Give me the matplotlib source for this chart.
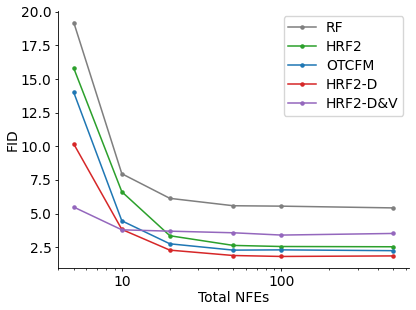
import matplotlib
matplotlib.use('Agg')
import matplotlib.pyplot as plt
from matplotlib.ticker import ScalarFormatter, NullFormatter

nfes = [5, 10, 20, 50, 100, 500]
rf = [19.2, 7.96, 6.13, 5.58, 5.55, 5.42]
hrf2 = [15.8, 6.62, 3.35, 2.63, 2.55, 2.53]
otcfm = [14.0, 4.46, 2.75, 2.28, 2.30, 2.24]
hrf2_d = [10.17, 3.82, 2.28, 1.88, 1.81, 1.85]
hrf2_dv = [5.48, 3.79, 3.69, 3.57, 3.40, 3.52]

series = [
    ('RF', rf, 'tab:gray'),
    ('HRF2', hrf2, 'tab:green'),
    ('OTCFM', otcfm, 'tab:blue'),
    ('HRF2-D', hrf2_d, 'tab:red'),
    ('HRF2-D&V', hrf2_dv, 'tab:purple'),
]

fig = plt.figure(figsize=(4.16, 3.10), dpi=100)
ax = fig.add_axes([0.139, 0.135, 0.844, 0.83])

for name, vals, col in series:
    ax.plot(nfes, vals, marker='.', markersize=4.5, linewidth=1.1, color=col, label=name)

ax.set_xscale('log')
ax.xaxis.set_major_formatter(ScalarFormatter())
ax.xaxis.set_minor_formatter(NullFormatter())
ax.tick_params(which='major', length=2.3, width=0.6, pad=2.3)
ax.tick_params(which='minor', length=1.4, width=0.5)
ax.set_xlabel('Total NFEs', labelpad=1.5)
ax.set_ylabel('FID', labelpad=1.0)
for s in ['left', 'bottom']:
    ax.spines[s].set_linewidth(0.6)
ax.spines['top'].set_visible(False)
ax.spines['right'].set_visible(False)
ax.legend(loc='upper right', labelspacing=0.36, borderpad=0.35,
          handlelength=2.0, handletextpad=0.7, borderaxespad=0.4, framealpha=0.8)

fig.savefig('out.png', dpi=100)
